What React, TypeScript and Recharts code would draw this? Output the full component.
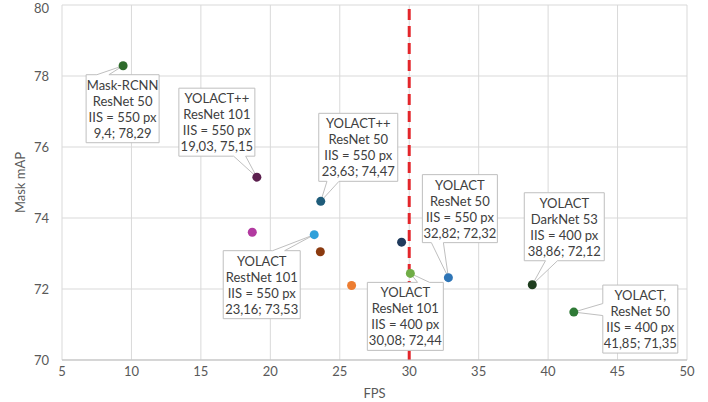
import React from 'react';
import {
  ScatterChart,
  Scatter,
  XAxis,
  YAxis,
  CartesianGrid,
  ReferenceLine,
} from 'recharts';

// FPS vs Mask mAP for the compared models
const fps = [9.4, 19.03, 23.63, 18.7, 23.16, 23.6, 25.85, 29.45, 30.08, 32.82, 38.86, 41.85];
const maskMap = [78.29, 75.15, 74.47, 73.6, 73.53, 73.05, 72.1, 73.32, 72.44, 72.32, 72.12, 71.35];
const dotColors = [
  '#2e6b2b', '#5b1f4e', '#1f5c7a', '#b23aa0', '#2fa0da', '#8b3a0f',
  '#ed7d31', '#1f3a5c', '#70ad47', '#2e75b6', '#1e3d1e', '#2f7a36',
];
const labels: (string[] | null)[] = [
  ['Mask-RCNN', 'ResNet 50', 'IIS = 550 px', '9,4; 78,29'],
  ['YOLACT++', 'ResNet 101', 'IIS = 550 px', '19,03, 75,15'],
  ['YOLACT++', 'ResNet 50', 'IIS = 550 px', '23,63; 74,47'],
  null,
  ['YOLACT', 'RestNet 101', 'IIS = 550 px', '23,16; 73,53'],
  null,
  null,
  null,
  ['YOLACT', 'ResNet 101', 'IIS = 400 px', '30,08; 72,44'],
  ['YOLACT', 'ResNet 50', 'IIS = 550 px', '32,82; 72,32'],
  ['YOLACT', 'DarkNet 53', 'IIS = 400 px', '38,86; 72,12'],
  ['YOLACT,', 'ResNet 50', 'IIS = 400 px', '41,85; 71,35'],
];

const xTicks = [5, 10, 15, 20, 25, 30, 35, 40, 45, 50];
const yTicks = [70, 72, 74, 76, 78, 80];

// callout box placement relative to its point (pixels), wedge side and position
type Callout = { dx: number; dy: number; w: number; side: 'top' | 'bottom' | 'left'; at: number };
const callouts: Record<number, Callout> = {
  0: { dx: -37, dy: 9, w: 73, side: 'top', at: 0.23 },
  1: { dx: -78, dy: -89, w: 76, side: 'bottom', at: 0.8 },
  2: { dx: -2, dy: -88, w: 79, side: 'bottom', at: 0.18 },
  4: { dx: -91, dy: 16, w: 77, side: 'top', at: 0.72 },
  8: { dx: -43, dy: 9, w: 76, side: 'top', at: 0.74 },
  9: { dx: -26, dy: -103, w: 75, side: 'bottom', at: 0.2 },
  10: { dx: -8, dy: -92, w: 80, side: 'bottom', at: 0.34 },
  11: { dx: 29, dy: -27, w: 75, side: 'left', at: 0.36 },
};

const data = fps.map((x, i) => ({ x, y: maskMap[i], i }));

const FONT = 'Lato, "Open Sans", sans-serif';
const BOX_H = 68;

function renderDot(props: any) {
  const { cx, cy } = props;
  const i = props.payload?.i ?? props.i;
  return <circle cx={cx} cy={cy} r={4.5} fill={dotColors[i]} />;
}

function renderCallout(props: any) {
  const { cx, cy } = props;
  const i = props.payload?.i ?? props.i;
  const c = callouts[i];
  const lines = labels[i];
  if (!c || !lines) return <g />;
  const x0 = cx + c.dx;
  const y0 = cy + c.dy;
  const x1 = x0 + c.w;
  const y1 = y0 + BOX_H;
  const hw = 6;
  let d = '';
  if (c.side === 'top') {
    const bx = x0 + c.w * c.at;
    d = `M${x0},${y0} L${bx - hw},${y0} L${cx},${cy} L${bx + hw},${y0} L${x1},${y0} L${x1},${y1} L${x0},${y1} Z`;
  } else if (c.side === 'bottom') {
    const bx = x0 + c.w * c.at;
    d = `M${x0},${y0} L${x1},${y0} L${x1},${y1} L${bx + hw},${y1} L${cx},${cy} L${bx - hw},${y1} L${x0},${y1} Z`;
  } else {
    const by = y0 + BOX_H * c.at;
    d = `M${x0},${y0} L${x1},${y0} L${x1},${y1} L${x0},${y1} L${x0},${by + hw} L${cx},${cy} L${x0},${by - hw} Z`;
  }
  return (
    <g>
      <path d={d} fill="#ffffff" stroke="#bfbfbf" strokeWidth={1} />
      {lines.map((t, k) => (
        <text
          key={k}
          x={x0 + c.w / 2}
          y={y0 + 15 + k * 16}
          textAnchor="middle"
          fontSize={13}
          fontFamily={FONT}
          fill="#404040"
        >
          {t}
        </text>
      ))}
    </g>
  );
}

export default function App() {
  return (
    <div style={{ position: 'absolute', left: 0, top: 0, background: '#fff' }}>
      <ScatterChart
        width={708}
        height={402}
        margin={{ top: 5, right: 21, bottom: 12, left: 20 }}
        style={{ fontFamily: FONT }}
      >
        <CartesianGrid stroke="#d9d9d9" />
        <XAxis
          type="number"
          dataKey="x"
          domain={[5, 50]}
          ticks={xTicks}
          allowDataOverflow
          height={30}
          stroke="#bfbfbf"
          tickLine={false}
          tickSize={0}
          tickMargin={7}
          tick={{ fill: '#595959', fontSize: 13 }}
          label={{ value: 'FPS', position: 'insideBottom', offset: -8, fill: '#595959', fontSize: 13 }}
        />
        <YAxis
          type="number"
          dataKey="y"
          domain={[70, 80]}
          ticks={yTicks}
          allowDataOverflow
          width={42}
          axisLine={false}
          tickLine={false}
          tickSize={0}
          tickMargin={13}
          tick={{ fill: '#595959', fontSize: 13 }}
          label={{
            value: 'Mask mAP',
            angle: -90,
            position: 'insideLeft',
            offset: 0,
            fill: '#595959',
            fontSize: 13,
            style: { textAnchor: 'middle' },
          }}
        />
        <Scatter data={data} shape={renderCallout} isAnimationActive={false} />
        <Scatter data={data} shape={renderDot} isAnimationActive={false} />
        <ReferenceLine x={30} stroke="#e3262b" strokeWidth={3} strokeDasharray="11 6" />
      </ScatterChart>
    </div>
  );
}
